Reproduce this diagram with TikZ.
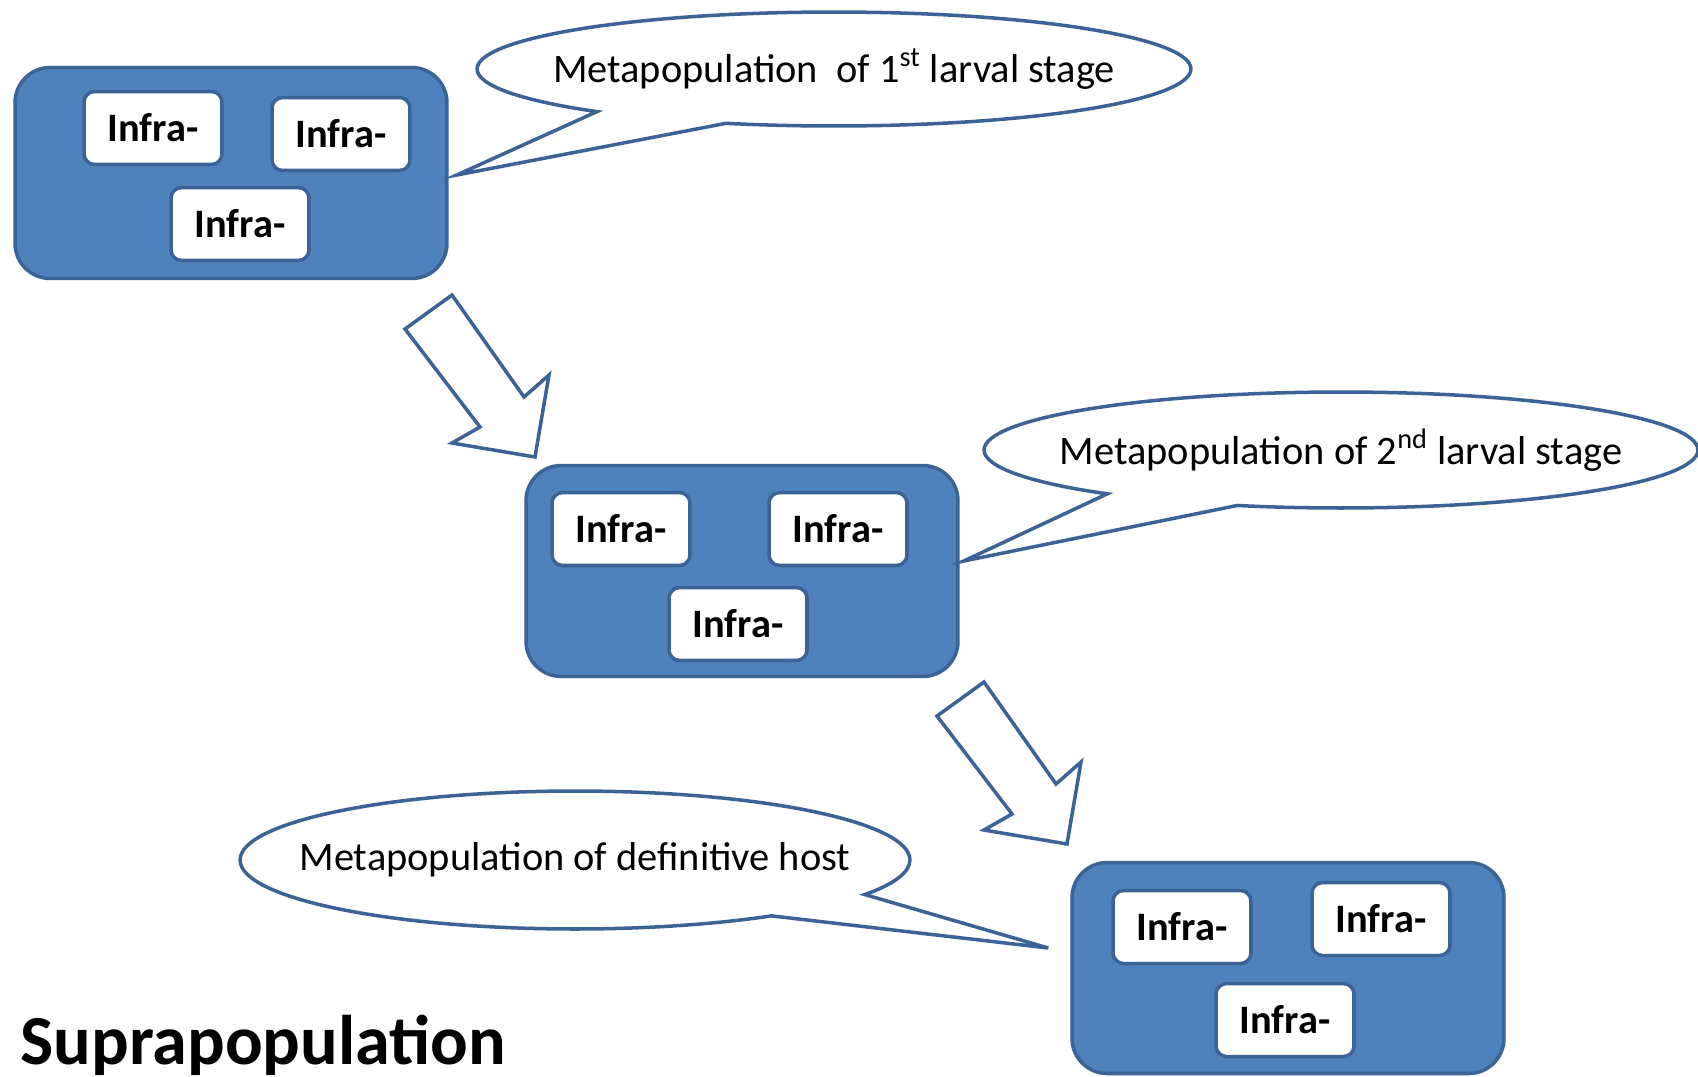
\documentclass[tikz,border=0pt]{standalone}
\usepackage{fontspec}
\setmainfont{Carlito}
\usetikzlibrary{shapes.callouts,calc}
\definecolor{boxblue}{HTML}{4F81BD}
\definecolor{edgeblue}{HTML}{3B6396}
\newcommand{\bubtext}[1]{\makebox[0pt]{#1}}
\tikzset{
	meta/.style={draw=edgeblue,fill=boxblue,rounded corners=20pt,line width=2pt,minimum width=8.64cm,minimum height=4.22cm},
	infra/.style={draw=edgeblue,fill=white,rounded corners=6pt,line width=2pt,minimum width=2.76cm,minimum height=1.46cm,inner sep=0pt,font=\fontsize{23}{26}\selectfont\bfseries},
	bubble/.style={ellipse callout,draw=edgeblue,fill=white,line width=2pt,inner sep=0pt,callout pointer arc=24,font=\fontsize{23}{26}\selectfont},
	hollow/.style={draw=edgeblue,fill=white,line width=2pt,line join=miter}
}
\begin{document}
\begin{tikzpicture}[x=0.02cm,y=-0.02cm]
	\useasboundingbox (0,0) rectangle (1698,1076);
	% stages
	\node[meta] (box1) at (231,173) {};
	\node[meta] (box2) at (742,571) {};
	\node[meta] (box3) at (1288,968) {};
	\node[infra] (i11) at (153,128) {Infra-};
	\node[infra] (i12) at (341,134) {Infra-};
	\node[infra] (i13) at (240,224) {Infra-};
	\node[infra] (i21) at (621,529) {Infra-};
	\node[infra] (i22) at (838,529) {Infra-};
	\node[infra] (i23) at (738,624) {Infra-};
	\node[infra] (i31) at (1182,927) {Infra-};
	\node[infra] (i32) at (1381,919) {Infra-};
	\node[infra] (i33) at (1285,1020) {Infra-};
	% callouts
	\node[bubble,minimum width=14.28cm,minimum height=2.28cm,callout absolute pointer={($(box1.east)+(8,2)$)}] (b1) at (834,69) {\bubtext{Metapopulation~ of 1\textsuperscript{st} larval stage}};
	\node[bubble,minimum width=14.28cm,minimum height=2.32cm,callout absolute pointer={($(box2.east)+(4,-10)$)}] (b2) at (1341,450) {\bubtext{Metapopulation of 2\textsuperscript{nd} larval stage}};
	\node[bubble,minimum width=13.4cm,minimum height=2.76cm,callout absolute pointer={($(box3.west)+(-22,-20)$)}] (b3) at (575,860) {\bubtext{Metapopulation of definitive host}};
	% block arrows
	\foreach \dx/\dy in {0/0,532/387}
		\draw[hollow,shift={(\dx,\dy)}] (405,329) -- (452,295) -- (524,397) -- (549,375) -- (535,457) -- (452,443) -- (480,427) -- cycle;
	\node[anchor=base west,font=\fontsize{40}{46}\selectfont\bfseries,inner sep=0pt] (supra) at (20,1064) {Suprapopulation};
\end{tikzpicture}
\end{document}
